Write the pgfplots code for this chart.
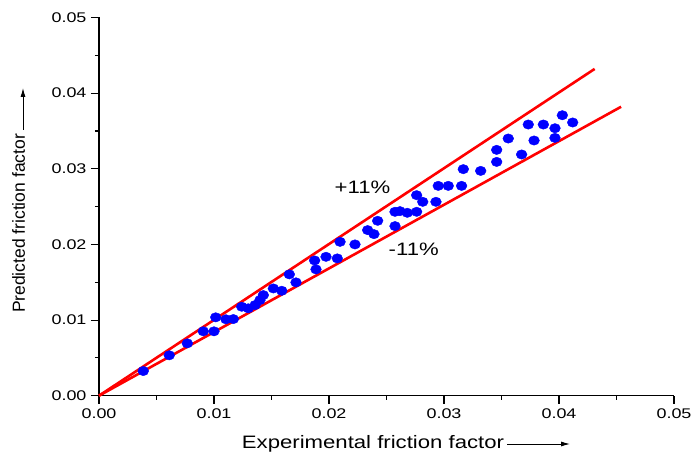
\documentclass[border=0pt]{standalone}
\usepackage{fontspec}
\usepackage{pgfplots}
\pgfplotsset{compat=1.18}
\usetikzlibrary{arrows.meta}
\setmainfont{Liberation Sans}
\newfontfamily\tickf{Liberation Sans}[FakeStretch=1.28]
\newfontfamily\labf{Liberation Sans}[FakeStretch=1.23]
\newfontfamily\ylabf{Liberation Sans}
\definecolor{dotblue}{RGB}{0,0,255}
\definecolor{linered}{RGB}{255,0,0}
\begin{document}
\begin{tikzpicture}
\useasboundingbox (-99pt,-58.3pt) rectangle (592pt,395.7pt);
\begin{axis}[
  at={(0pt,0pt)}, anchor=south west,
  scale only axis, width=575pt, height=378.2pt,
  xmin=0, xmax=0.05, ymin=0, ymax=0.05,
  axis x line*=bottom, axis y line*=left,
  axis line style={-, line width=1.3pt},
  every tick/.style={black, line width=1.1pt},
  tick align=outside,
  major tick length=8pt, minor tick length=4pt,
  xtick={0,0.01,0.02,0.03,0.04,0.05},
  ytick={0,0.01,0.02,0.03,0.04,0.05},
  minor tick num=1,
  scaled ticks=false,
  /pgf/number format/assume math mode=true,
  /pgf/number format/fixed, /pgf/number format/fixed zerofill,
  /pgf/number format/precision=2,
  tick label style={font=\tickf\fontsize{14}{16}\selectfont},
  xticklabel style={yshift=-1pt},
  yticklabel style={xshift=-1pt},
  clip=false,
]
\addplot[linered, line width=2.6pt, no marks] coordinates {(0,0) (0.0431,0.0432)};
\addplot[linered, line width=2.6pt, no marks] coordinates {(0,0) (0.0454,0.0382)};
\addplot[only marks, mark=*, mark size=4.7pt, mark options={draw=dotblue, fill=dotblue, xscale=1.15}] coordinates {
(0.00385,0.00326)
(0.00611,0.00534)
(0.00768,0.00692)
(0.00907,0.00851)
(0.01000,0.00851)
(0.01015,0.01036)
(0.01104,0.01010)
(0.01168,0.01013)
(0.01241,0.01176)
(0.01298,0.01155)
(0.01357,0.01198)
(0.01400,0.01264)
(0.01429,0.01330)
(0.01516,0.01418)
(0.01589,0.01387)
(0.01655,0.01604)
(0.01713,0.01498)
(0.01875,0.01788)
(0.01887,0.01670)
(0.01974,0.01836)
(0.02072,0.01815)
(0.02096,0.02034)
(0.02226,0.02000)
(0.02336,0.02189)
(0.02391,0.02136)
(0.02423,0.02312)
(0.02574,0.02242)
(0.02574,0.02431)
(0.02617,0.02440)
(0.02681,0.02418)
(0.02762,0.02431)
(0.02762,0.02651)
(0.02815,0.02563)
(0.02930,0.02563)
(0.02950,0.02774)
(0.03037,0.02774)
(0.03153,0.02774)
(0.03168,0.02995)
(0.03319,0.02972)
(0.03458,0.03091)
(0.03458,0.03250)
(0.03559,0.03400)
(0.03675,0.03189)
(0.03733,0.03585)
(0.03783,0.03374)
(0.03864,0.03585)
(0.03965,0.03536)
(0.03965,0.03408)
(0.04029,0.03708)
(0.04119,0.03612)
};
\node[font=\labf\fontsize{18}{20}\selectfont] at (axis cs:0.02291,0.02757) {+11\%};
\node[font=\labf\fontsize{18}{20}\selectfont] at (axis cs:0.02737,0.01931) {-11\%};
\end{axis}
% axis labels
\node[anchor=base, font=\labf\fontsize{18}{20}\selectfont, inner sep=0pt] at (274pt,-53.3pt) {Experimental friction factor};
\node[anchor=base, rotate=90, font=\ylabf\fontsize{17.5}{20}\selectfont, inner sep=0pt] at (-74pt,172.2pt) {Predicted friction factor};
\draw[line width=0.9pt, -{Latex[length=9pt,width=5pt]}] (408pt,-48.3pt) -- (471pt,-48.3pt);
\draw[line width=0.9pt, -{Latex[length=9pt,width=5pt]}] (-76pt,265.7pt) -- (-76pt,307.7pt);
\end{tikzpicture}
\end{document}
